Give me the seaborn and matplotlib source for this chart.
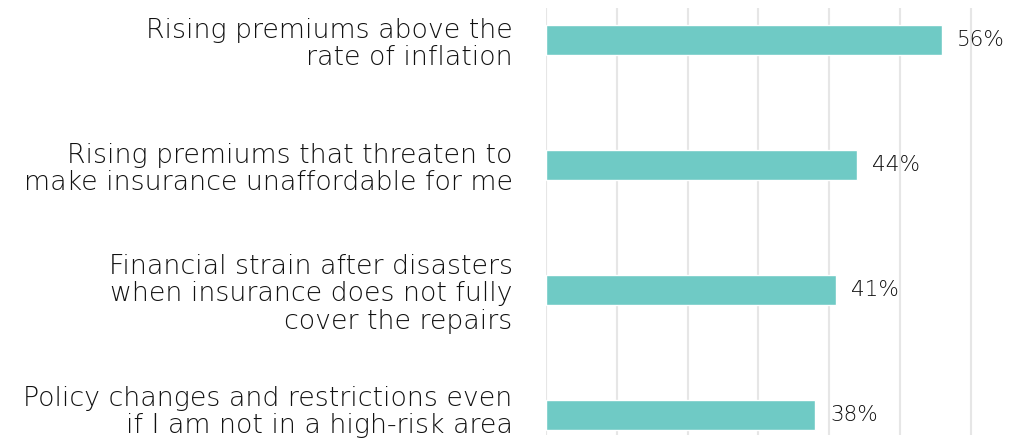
import matplotlib
matplotlib.use("Agg")
import matplotlib.pyplot as plt
import matplotlib.transforms as mtrans
import seaborn as sns
import pandas as pd

categories = [
    "Rising premiums above the\nrate of inflation",
    "Rising premiums that threaten to\nmake insurance unaffordable for me",
    "Financial strain after disasters\nwhen insurance does not fully\ncover the repairs",
    "Policy changes and restrictions even\nif I am not in a high-risk area",
]
values = [56, 44, 41, 38]
labels = ["56%", "44%", "41%", "38%"]

sns.set_style("white")
plt.rcParams["font.family"] = ["DejaVu Sans"]

df = pd.DataFrame({"cat": categories, "val": values})

fig = plt.figure(figsize=(10.09, 4.43), dpi=100)
ax = fig.add_axes([546 / 1009, 8 / 443, 463 / 1009, 427 / 443])

sns.barplot(data=df, x="val", y="cat", color="#6fcac5", saturation=1,
            width=0.24, ax=ax, zorder=3)

ax.set_xlim(0, 65.4)
ax.set_ylim(3.16, -0.26)
ax.set_xticks(range(0, 61, 10))
ax.grid(axis="x", color="#e6e6e6", linewidth=1.5, zorder=0)
ax.tick_params(axis="x", length=0, labelbottom=False)
ax.tick_params(axis="y", length=0, pad=24)
for t in ax.get_yticklabels():
    t.set_fontsize(19.3)
    t.set_color("#111111")
    t.set_linespacing(1.12)
    t.set_fontweight("light")
# nudge the bottom label up so its descenders stay inside the figure
last = ax.get_yticklabels()[-1]
last.set_transform(last.get_transform() +
                   mtrans.ScaledTranslation(0, 5 / 72, fig.dpi_scale_trans))
for s in ax.spines.values():
    s.set_visible(False)
ax.set_xlabel("")
ax.set_ylabel("")

for i, (v, lab) in enumerate(zip(values, labels)):
    ax.text(v + 2.1, i, lab, va="center", ha="left", fontsize=15.5,
            color="#111111", fontweight="light")

fig.savefig("out.png", dpi=100)
